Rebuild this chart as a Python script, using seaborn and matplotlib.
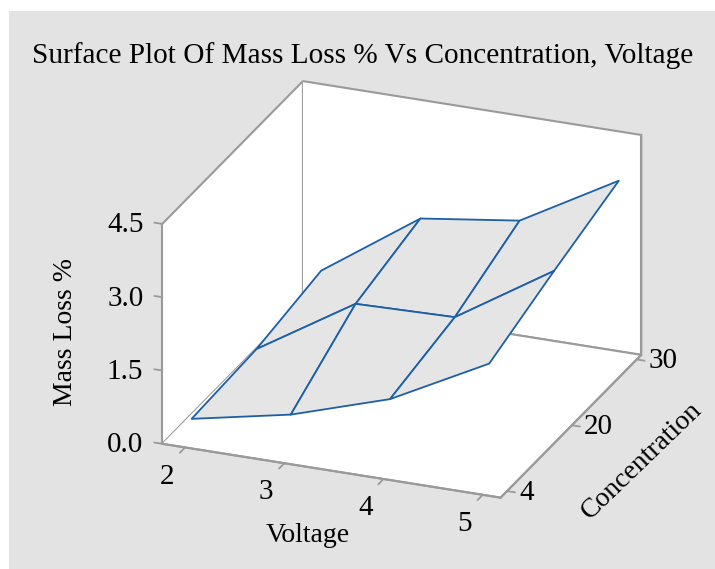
import numpy as np
import pandas as pd
import matplotlib
matplotlib.use("Agg")
import matplotlib.pyplot as plt
import seaborn as sns
from matplotlib.patches import Rectangle
from mpl_toolkits.mplot3d import proj3d

# ---- data ----
voltage = [2, 3, 4, 5]
concentration = [4, 20, 30]
mass_loss_c4 = [0.45, 0.86, 1.50, 2.55]
mass_loss_c20 = [0.53, 1.78, 1.83, 3.10]
mass_loss_c30 = [0.79, 2.18, 2.46, 3.60]
z_ticks = [0.0, 1.5, 3.0, 4.5]
z_tick_labels = ["0.0", "1.5", "3.0", "4.5"]

sns.set_theme(style="white")
plt.rcParams['font.family'] = ['Liberation Serif', 'DejaVu Serif']

df = pd.DataFrame({
    "Voltage": voltage * 3,
    "Concentration": sum([[c] * len(voltage) for c in concentration], []),
    "MassLoss": mass_loss_c4 + mass_loss_c20 + mass_loss_c30,
})
grid = df.pivot(index="Concentration", columns="Voltage", values="MassLoss")
conc_pos = np.arange(len(concentration))
X, Y = np.meshgrid(np.array(voltage, dtype=float), conc_pos.astype(float))
Z = grid.loc[concentration, voltage].values

fig = plt.figure(figsize=(7.15, 5.69), dpi=100)
fig.patch.set_facecolor("white")
fig.patches.append(Rectangle((9 / 715, 0), 706 / 715, 558 / 569,
                             transform=fig.transFigure, facecolor="#e3e3e3",
                             edgecolor="none", zorder=-10))

ax = fig.add_axes([0.052, 0.019, 1.0, 0.92], projection="3d")
ax.set_proj_type("ortho")
ax.patch.set_alpha(0)
ax.view_init(elev=23.7, azim=-68.4)
ax.set_box_aspect((1.0, 1.05, 0.66), zoom=1.075)

ax.plot_surface(X, Y, Z, color="#e5e5e5", edgecolor="#1d5fa6", linewidth=1.3,
                shade=False, rstride=1, cstride=1, antialiased=True)

xlim = (1.77, 5.18)
ylim = (-0.1, 2.07)
zlim = (0, 4.5)
ax.set_xlim(*xlim)
ax.set_ylim(*ylim)
ax.set_zlim(*zlim)
ax.set_xticks([])
ax.set_yticks([])
ax.set_zticks([])
ax.grid(False)

grey = "#9a9a9a"
for a in (ax.xaxis, ax.yaxis, ax.zaxis):
    a.set_pane_color((1, 1, 1, 1))
    a.pane.set_edgecolor(grey)
    a.pane.set_linewidth(1.5)
    a.line.set_color(grey)
    a.line.set_linewidth(1.5)

# front-left vertical frame edge (z axis line)
ax.plot([xlim[0], xlim[0]], [ylim[0], ylim[0]], list(zlim), color=grey, lw=1.5)

fig.canvas.draw()
M = ax.get_proj()


def label3d(x, y, z, s, **kw):
    """Place 2-D text at the projection of a 3-D data point."""
    px, py, _ = proj3d.proj_transform(x, y, z, M)
    ax.text2D(px, py, s, transform=ax.transData, color="black", **kw)


fs = 21
tl = 0.08  # tick length in data units
# voltage ticks + labels below the voltage axis
for v in voltage:
    ax.plot([v, v], [ylim[0], ylim[0] - tl], [0, 0], color=grey, lw=1.3)
    label3d(v, ylim[0] - 0.28, -0.22, str(v), ha="center", va="center", fontsize=fs)
# z ticks + labels: horizontal, left of the z axis
for zt, lab in zip(z_ticks, z_tick_labels):
    ax.plot([xlim[0], xlim[0] - tl], [ylim[0], ylim[0]], [zt, zt], color=grey, lw=1.3)
    label3d(xlim[0] - 0.19, ylim[0], zt - 0.09, lab, ha="right", va="center", fontsize=fs)
# concentration ticks + labels right of the concentration axis
for cp, c in zip(conc_pos, concentration):
    ax.plot([xlim[1], xlim[1] + tl], [cp, cp], [0, 0], color=grey, lw=1.3)
    label3d(xlim[1] + 0.12, cp, 0, str(c), ha="left", va="center", fontsize=fs)

fig.text(308 / 715, 1 - 535 / 569, "Voltage", ha="center", va="center",
         fontsize=20, color="black")
fig.text(642 / 715, 1 - 461 / 569, "Concentration", rotation=44, ha="center",
         va="center", rotation_mode="anchor", fontsize=20, color="black")
fig.text(65 / 715, 1 - 332 / 569, "Mass Loss %", rotation=90, ha="center",
         va="center", fontsize=20, color="black")

fig.text(363 / 715, 1 - 56 / 569, "Surface Plot Of Mass Loss % Vs Concentration, Voltage",
         ha="center", va="center", fontsize=21.1, color="black")

fig.savefig("out.png", dpi=100)
